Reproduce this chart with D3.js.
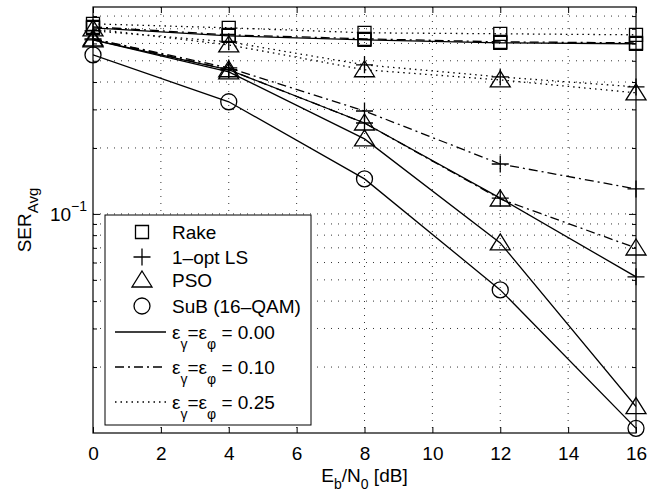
<!DOCTYPE html>
<html>
<head>
<meta charset="utf-8">
<script src="https://cdn.jsdelivr.net/npm/d3@7"></script>
<style>
  body { margin: 0; background: #fff; }
  text { font-family: "Liberation Sans", Arial, sans-serif; fill: #000; }
</style>
</head>
<body>
<div id="chart"></div>
<script>
// Eb/N0 points and axis ticks
const snr = [0, 4, 8, 12, 16];
const xTicks = [0, 2, 4, 6, 8, 10, 12, 14, 16];
const yMinor = [0.02, 0.03, 0.04, 0.05, 0.06, 0.07, 0.08, 0.09, 0.2, 0.3, 0.4, 0.5, 0.6, 0.7, 0.8];

// SER values
const rake00 = [0.707, 0.650, 0.623, 0.604, 0.598];
const rake10 = [0.714, 0.657, 0.630, 0.610, 0.604];
const rake25 = [0.737, 0.707, 0.671, 0.664, 0.657];
const ls00 = [0.623, 0.455, 0.260, 0.118, 0.0516];
const ls10 = [0.630, 0.464, 0.295, 0.169, 0.130];
const ls25 = [0.685, 0.610, 0.479, 0.422, 0.380];
const pso00 = [0.623, 0.445, 0.220, 0.0737, 0.0132];
const pso10 = [0.630, 0.455, 0.260, 0.117, 0.0699];
const pso25 = [0.699, 0.591, 0.455, 0.409, 0.357];
const sub00 = [0.532, 0.325, 0.1445, 0.0450, 0.0105];

const algoNames = ["Rake", "1\u2013opt LS", "PSO", "SuB (16\u2013QAM)"];
const epsLabels = ["0.00", "0.10", "0.25"];

const width = 659, height = 491;
const margin = { top: 7, left: 93, bottom: 58, right: 23 };
const iwidth = width - margin.left - margin.right;
const iheight = height - margin.top - margin.bottom;

const dashes = { solid: null, dashdot: "9,4,2,4", dotted: "1.5,4" };

const series = [
  { v: rake00, m: "square", d: "solid" },
  { v: rake10, m: "square", d: "dashdot" },
  { v: rake25, m: "square", d: "dotted" },
  { v: ls00, m: "plus", d: "solid" },
  { v: ls10, m: "plus", d: "dashdot" },
  { v: ls25, m: "plus", d: "dotted" },
  { v: pso00, m: "triangle", d: "solid" },
  { v: pso10, m: "triangle", d: "dashdot" },
  { v: pso25, m: "triangle", d: "dotted" },
  { v: sub00, m: "circle", d: "solid" }
];

const markerPath = {
  square: "M-6.5,-6.5H6.5V6.5H-6.5Z",
  plus: "M-8.5,0H8.5M0,-8.5V8.5",
  triangle: "M0,-9L10,7H-10Z",
  circle: "M8,0A8,8 0 1,1 -8,0A8,8 0 1,1 8,0Z"
};

const svg = d3.select("#chart").append("svg")
  .attr("width", width).attr("height", height);

const g = svg.append("g").attr("transform", `translate(${margin.left},${margin.top})`);

const x = d3.scaleLinear().domain([0, 16]).range([0, iwidth]);
const y = d3.scaleLog().domain([0.01, 0.88]).range([iheight, 0]);

// grid
const grid = g.append("g").attr("stroke", "#000").attr("stroke-width", 0.8).attr("stroke-dasharray", "1,6");
grid.selectAll(".gx").data(xTicks.slice(1, -1)).enter().append("line")
  .attr("x1", d => x(d)).attr("x2", d => x(d)).attr("y1", 0).attr("y2", iheight);
grid.selectAll(".gy").data(yMinor.concat([0.1])).enter().append("line")
  .attr("x1", 0).attr("x2", iwidth).attr("y1", d => y(d)).attr("y2", d => y(d));

// axes (ticks inward, MATLAB style)
g.append("g").attr("transform", `translate(0,${iheight})`)
  .call(d3.axisBottom(x).tickValues(xTicks).tickSize(-6).tickPadding(14).tickFormat(d3.format("d")))
  .call(a => a.select(".domain").remove())
  .call(a => a.selectAll("text").attr("font-size", 19));
g.append("g")
  .call(d3.axisTop(x).tickValues(xTicks).tickSize(-6).tickFormat(""))
  .call(a => a.select(".domain").remove());
g.append("g")
  .call(d3.axisLeft(y).tickValues(yMinor).tickSize(-4).tickFormat(""))
  .call(a => a.select(".domain").remove());
g.append("g").attr("transform", `translate(${iwidth},0)`)
  .call(d3.axisRight(y).tickValues(yMinor).tickSize(-4).tickFormat(""))
  .call(a => a.select(".domain").remove());
g.append("g")
  .call(d3.axisLeft(y).tickValues([0.1]).tickSize(-7).tickFormat(""))
  .call(a => a.select(".domain").remove());
g.append("g").attr("transform", `translate(${iwidth},0)`)
  .call(d3.axisRight(y).tickValues([0.1]).tickSize(-7).tickFormat(""))
  .call(a => a.select(".domain").remove());
g.selectAll(".tick line").attr("stroke", "#000").attr("stroke-width", 1);

// 10^-1 label
const lab = g.append("text").attr("x", -6).attr("y", y(0.1) + 7).attr("text-anchor", "end").attr("font-size", 19);
lab.append("tspan").text("10");
lab.append("tspan").attr("dy", -10).attr("font-size", 14).text("\u22121");

g.append("rect").attr("width", iwidth).attr("height", iheight)
  .attr("fill", "none").attr("stroke", "#000").attr("stroke-width", 1.2);

// lines
g.append("clipPath").attr("id", "clip").append("rect").attr("width", iwidth).attr("height", iheight);
const line = d3.line().x((d, i) => x(snr[i])).y(d => y(d));
g.append("g").attr("clip-path", "url(#clip)").selectAll("path").data(series).enter().append("path")
  .attr("d", s => line(s.v))
  .attr("fill", "none").attr("stroke", "#000").attr("stroke-width", 1.3)
  .attr("stroke-dasharray", s => dashes[s.d]);

// markers
series.forEach(s => {
  g.append("g").selectAll("path").data(s.v).enter().append("path")
    .attr("transform", (d, i) => `translate(${x(snr[i])},${y(d)})`)
    .attr("d", markerPath[s.m])
    .attr("fill", "none").attr("stroke", "#000").attr("stroke-width", 1.3);
});

// axis labels
const xl = svg.append("text").attr("x", margin.left + iwidth / 2).attr("y", 482)
  .attr("text-anchor", "middle").attr("font-size", 19);
xl.append("tspan").text("E");
xl.append("tspan").attr("dy", 7).attr("font-size", 14).text("b");
xl.append("tspan").attr("dy", -7).text("/N");
xl.append("tspan").attr("dy", 7).attr("font-size", 14).text("0");
xl.append("tspan").attr("dy", -7).text(" [dB]");

const yl = svg.append("text").attr("transform", `translate(31,${margin.top + iheight / 2}) rotate(-90)`)
  .attr("text-anchor", "middle").attr("font-size", 19);
yl.append("tspan").text("SER");
yl.append("tspan").attr("dy", 7).attr("font-size", 15).text("Avg");

// legend
const lg = svg.append("g").attr("transform", "translate(105,215)");
lg.append("rect").attr("width", 206).attr("height", 210)
  .attr("fill", "#fff").attr("stroke", "#000").attr("stroke-width", 1);
const mk = ["square", "plus", "triangle", "circle"];
const rowY = [17, 42, 65, 91];
algoNames.forEach((n, i) => {
  lg.append("path").attr("transform", `translate(37,${rowY[i]})`).attr("d", markerPath[mk[i]])
    .attr("fill", "none").attr("stroke", "#000").attr("stroke-width", 1.3);
  lg.append("text").attr("x", 67).attr("y", rowY[i] + 7).attr("font-size", 19).text(n);
});
const epsY = [117, 152, 187];
const epsDash = ["solid", "dashdot", "dotted"];
epsLabels.forEach((e, i) => {
  lg.append("line").attr("x1", 10).attr("x2", 61).attr("y1", epsY[i]).attr("y2", epsY[i])
    .attr("stroke", "#000").attr("stroke-width", 1.3).attr("stroke-dasharray", dashes[epsDash[i]]);
  const t = lg.append("text").attr("x", 67).attr("y", epsY[i] + 7).attr("font-size", 19);
  t.append("tspan").text("\u03b5");
  t.append("tspan").attr("dy", 10).attr("font-size", 14).text("\u03b3");
  t.append("tspan").attr("dy", -10).text("=\u03b5");
  t.append("tspan").attr("dy", 10).attr("font-size", 14).text("\u03c6");
  t.append("tspan").attr("dy", -10).text(" = " + e);
});
</script>
</body>
</html>
